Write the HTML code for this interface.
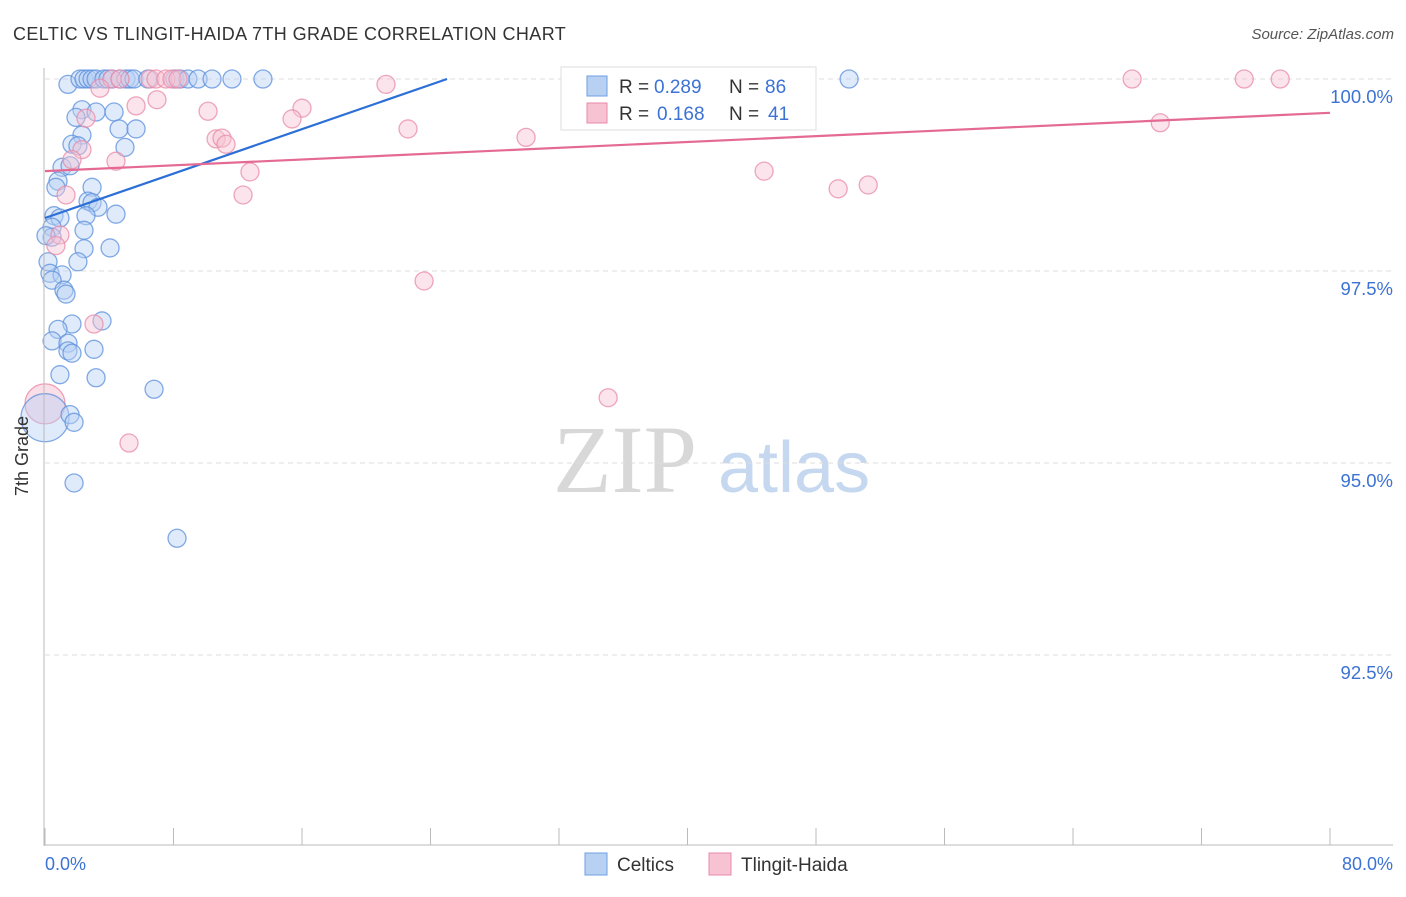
<!DOCTYPE html>
<html><head><meta charset="utf-8"><style>
body{margin:0;background:#fff;font-family:"Liberation Sans",sans-serif;}
</style></head><body>
<svg id="chart" width="1406" height="892" xmlns="http://www.w3.org/2000/svg">
<text x="13" y="40" font-size="18" fill="#333" letter-spacing="0.4">CELTIC VS TLINGIT-HAIDA 7TH GRADE CORRELATION CHART</text>
<text x="1394" y="39" font-size="15" fill="#555" font-style="italic" text-anchor="end">Source: ZipAtlas.com</text>
<g>
<text x="553" y="492" font-size="96" font-family="Liberation Serif,serif" fill="#d8d8d8">ZIP</text>
<text x="718" y="492" font-size="72" fill="#c5d8f0">atlas</text>
</g>
<g id="grid"></g>
<g id="marks"></g>
<line x1="44" y1="68" x2="44" y2="846" stroke="#bbb"/>
<line x1="44" y1="845" x2="1393" y2="845" stroke="#bbb"/>
<text x="28" y="456" font-size="18" fill="#333" transform="rotate(-90 28 456)" text-anchor="middle">7th Grade</text>
<text x="45" y="870" font-size="18" fill="#3b72d4">0.0%</text>
<text x="1393" y="870" font-size="18" fill="#3b72d4" text-anchor="end">80.0%</text>
<g>
<rect x="561" y="67" width="255" height="63" fill="#fff" stroke="#ddd"/>
<rect x="587" y="76" width="20" height="20" fill="#b8d1f3" stroke="#6e9fe0"/>
<rect x="587" y="103" width="20" height="20" fill="#f7c3d3" stroke="#e88aa8"/>
<text x="619" y="93" font-size="19" fill="#333">R =</text>
<text x="654" y="93" font-size="19" fill="#3b72d4">0.289</text>
<text x="729" y="93" font-size="19" fill="#333">N =</text>
<text x="765" y="93" font-size="19" fill="#3b72d4">86</text>
<text x="619" y="120" font-size="19" fill="#333">R =</text>
<text x="657" y="120" font-size="19" fill="#3b72d4">0.168</text>
<text x="729" y="120" font-size="19" fill="#333">N =</text>
<text x="768" y="120" font-size="19" fill="#3b72d4">41</text>
</g>
<g>
<rect x="585" y="853" width="22" height="22" fill="#b8d1f3" stroke="#6e9fe0"/>
<text x="617" y="871" font-size="19" fill="#333">Celtics</text>
<rect x="709" y="853" width="22" height="22" fill="#f7c3d3" stroke="#e88aa8"/>
<text x="741" y="871" font-size="19" fill="#333">Tlingit-Haida</text>
</g>
</svg>
<script>
const yTicks=[100,97.5,95,92.5];
const yTickLabels=["100.0%","97.5%","95.0%","92.5%"];
const xTicks=[0,8,16,24,32,40,48,56,64,72,80];
const blueX=[1.43,2.18,2.43,2.68,2.93,3.18,3.67,3.92,4.17,4.67,5.04,5.29,5.54,6.41,8.09,8.41,8.9,9.53,10.4,11.64,13.57,50.06,2.3,3.18,4.3,1.93,2.3,4.61,5.67,1.68,2.05,4.98,1.06,1.56,0.81,2.93,0.68,2.68,2.93,3.3,4.42,0.56,0.93,2.55,0.44,2.43,0.44,0.06,4.05,2.43,2.05,0.19,0.31,1.06,0.44,1.18,1.31,3.55,1.68,0.81,0.44,1.43,1.43,1.68,3.05,0.93,3.18,6.79,1.56,1.81,1.81,8.22];
const blueY=[99.93,100,100,100,100,100,100,100,100,100,100,100,100,100,100,100,100,100,100,100,100,100,99.6,99.57,99.57,99.5,99.27,99.35,99.35,99.15,99.13,99.11,98.85,98.87,98.67,98.59,98.59,98.41,98.39,98.33,98.24,98.22,98.19,98.22,98.07,98.03,97.94,97.96,97.8,97.79,97.62,97.62,97.47,97.45,97.38,97.25,97.2,96.85,96.81,96.74,96.59,96.56,96.46,96.43,96.48,96.15,96.11,95.96,95.63,95.53,94.74,94.02];
const blueBigX=[0];const blueBigY=[95.59];
const pinkX=[4.17,4.67,6.54,6.91,7.53,7.91,8.28,21.23,36.68,67.68,74.66,76.9,3.42,6.97,5.67,10.15,16.0,15.38,22.6,29.95,10.65,11.02,11.27,2.3,1.68,4.42,12.76,44.77,49.38,51.25,12.33,1.31,0.93,0.68,3.05,23.6,35.06,5.23,69.43,2.55];
const pinkY=[100,100,100,100,100,100,100,99.93,100,100,100,100,99.88,99.73,99.65,99.58,99.62,99.48,99.35,99.24,99.22,99.23,99.15,99.08,98.95,98.93,98.79,98.8,98.57,98.62,98.49,98.49,97.97,97.83,96.81,97.37,95.85,95.26,99.43,99.49];
const pinkBigX=[0];const pinkBigY=[95.77];
const blueTrend=[98.19,100];const blueTrendX=[0,25.03];
const pinkTrend=[98.8,99.56];const pinkTrendX=[0,80];
const NS="http://www.w3.org/2000/svg";
const sx=v=>45+v*1285/80;
const sy=v=>79+(100-v)*76.8;
function mk(tag,attrs,parent){const e=document.createElementNS(NS,tag);for(const k in attrs)e.setAttribute(k,attrs[k]);parent.appendChild(e);return e;}
const grid=document.getElementById('grid'),marks=document.getElementById('marks');
yTicks.forEach((t,i)=>{
 const l=mk('line',{x1:45,x2:1393,y1:sy(t),y2:sy(t),stroke:'#ddd','stroke-dasharray':'5,4'},grid);
 
 
 const tx=mk('text',{x:1393,y:sy(t)+24,'font-size':18.5,fill:'#3b72d4','text-anchor':'end'},grid);
 tx.textContent=yTickLabels[i];
 
 
});
xTicks.forEach(t=>{
 const l=mk('line',{x1:sx(t),x2:sx(t),y1:828,y2:845,stroke:'#bbb'},grid);
 
 
});
function pts(X,Y,r,fill,stroke,name){X.forEach((x,i)=>{
 const c=mk('circle',{cx:sx(x),cy:sy(Y[i]),r:r,fill:fill,'fill-opacity':0.45,stroke:stroke,'stroke-width':1.3,'stroke-opacity':0.75},marks);
 
 
});}
pts(pinkBigX,pinkBigY,20,'#f7b8cb','#e8819f','tlingit-point');
pts(blueBigX,blueBigY,24,'#b8d1f3','#5b8fdc','celtics-point');
pts(blueX,blueY,9,'#b8d1f3','#5b8fdc','celtics-point');
pts(pinkX,pinkY,9,'#f7c3d3','#e88aa8','tlingit-point');
const bl=mk('line',{x1:sx(blueTrendX[0]),y1:sy(blueTrend[0]),x2:sx(blueTrendX[1]),y2:sy(blueTrend[1]),stroke:'#2c6fd6','stroke-width':2.2},marks);


const pl=mk('line',{x1:sx(pinkTrendX[0]),y1:sy(pinkTrend[0]),x2:sx(pinkTrendX[1]),y2:sy(pinkTrend[1]),stroke:'#e46a94','stroke-width':2.2},marks);


</script>
</body></html>
